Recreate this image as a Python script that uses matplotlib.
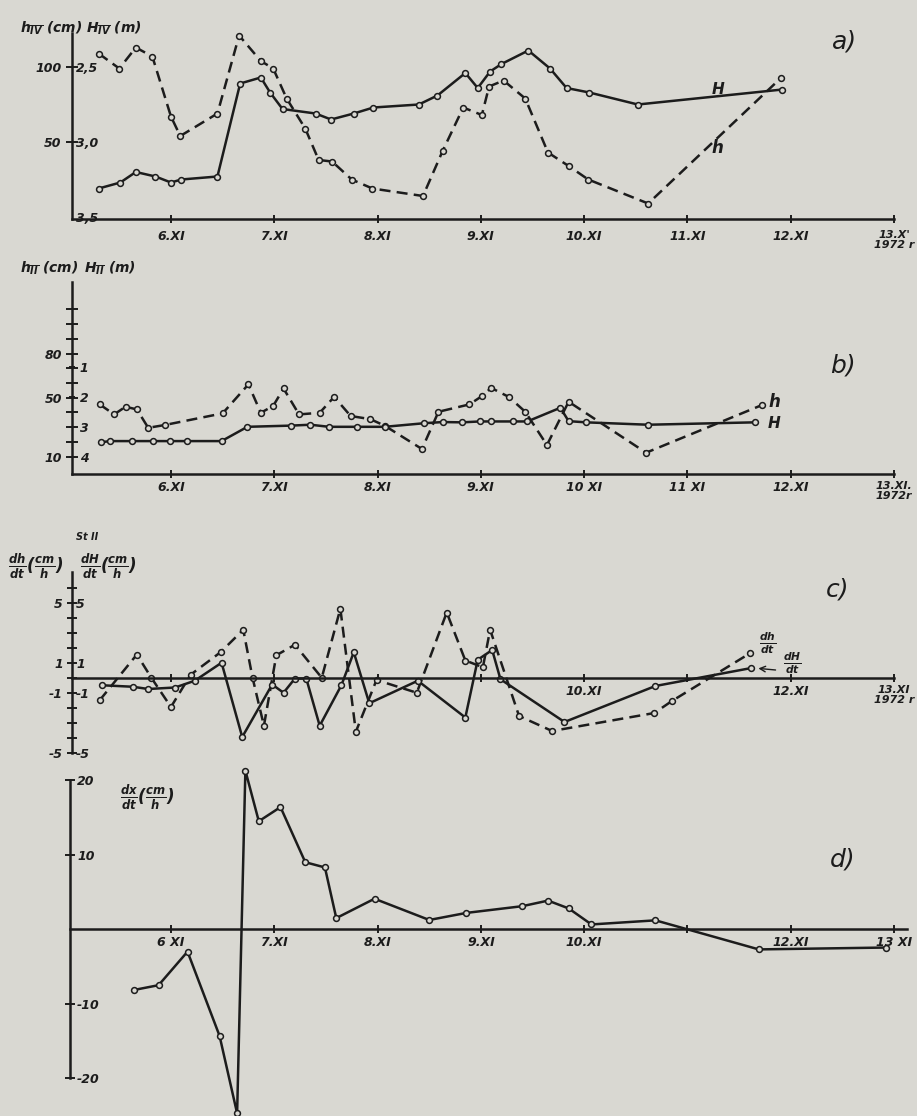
import matplotlib
matplotlib.use('Agg')
import matplotlib.pyplot as plt

W, H = 917, 1116
BG = '#d9d8d2'
INK = '#1c1c1c'

plt.rcParams.update({
    'font.family': ['DejaVu Sans'],
    'font.style': 'italic',
    'font.weight': 'bold',
    'mathtext.fontset': 'custom',
    'mathtext.it': 'DejaVu Sans:italic:bold',
    'mathtext.rm': 'DejaVu Sans:italic:bold',
    'mathtext.bf': 'DejaVu Sans:bold',
    'mathtext.sf': 'DejaVu Sans:bold',
})

# ---------------- data (time in days of November 1972) ----------------
# panel a) gauge IV
a_H_t = [5.30, 5.51, 5.66, 5.85, 6.00, 6.10, 6.45, 6.67, 6.87, 6.96, 7.08, 7.40, 7.55, 7.77,
         7.96, 8.40, 8.58, 8.85, 8.97, 9.09, 9.20, 9.46, 9.67, 9.83, 10.05, 10.52, 11.92]
a_H = [3.31, 3.27, 3.20, 3.23, 3.27, 3.25, 3.23, 2.61, 2.57, 2.67, 2.78, 2.81, 2.85, 2.81,
       2.77, 2.75, 2.69, 2.54, 2.64, 2.53, 2.48, 2.39, 2.51, 2.64, 2.67, 2.75, 2.65]
a_h_t = [5.30, 5.50, 5.66, 5.82, 6.00, 6.09, 6.45, 6.66, 6.87, 6.99, 7.12, 7.30, 7.43, 7.56,
         7.75, 7.95, 8.44, 8.63, 8.83, 9.01, 9.08, 9.22, 9.43, 9.65, 9.85, 10.04, 10.62, 11.91]
a_h = [109, 99, 113, 107, 67, 54, 69, 121, 104, 99, 79, 59, 38, 37,
       25, 19, 14, 44, 73, 68, 87, 91, 79, 43, 34, 25, 9, 93]

# panel b) gauge II
b_h_t = [5.31, 5.45, 5.56, 5.67, 5.78, 5.94, 6.50, 6.75, 6.87, 6.99, 7.09, 7.24, 7.44, 7.58,
         7.74, 7.93, 8.07, 8.43, 8.59, 8.89, 9.01, 9.10, 9.27, 9.43, 9.64, 9.85, 10.60, 11.72]
b_h = [45.5, 38.7, 43.9, 42.1, 29.6, 31.5, 39.4, 59.1, 39.8, 44.5, 56.3, 38.7, 39.8, 50.6,
       37.6, 35.5, 31.0, 15.2, 40.5, 45.5, 51.1, 56.7, 50.6, 40.5, 17.9, 47.3, 12.7, 45.0]
b_H_t = [5.32, 5.41, 5.62, 5.83, 5.99, 6.16, 6.49, 6.74, 7.16, 7.35, 7.53, 7.80, 8.07, 8.45,
         8.63, 8.82, 8.99, 9.10, 9.31, 9.45, 9.77, 9.85, 10.02, 10.62, 11.65]
b_H = [3.52, 3.48, 3.48, 3.48, 3.48, 3.48, 3.48, 3.00, 2.96, 2.93, 3.00, 3.00, 3.00, 2.88,
       2.84, 2.85, 2.82, 2.82, 2.82, 2.82, 2.36, 2.81, 2.85, 2.93, 2.85]

# panel c) rates of change
c_dh_t = [5.31, 5.67, 5.81, 6.00, 6.19, 6.48, 6.70, 6.79, 6.90, 7.02, 7.20, 7.46, 7.64, 7.79,
          7.99, 8.38, 8.67, 8.85, 9.02, 9.09, 9.37, 9.69, 10.68, 10.85, 11.61]
c_dh = [-1.5, 1.55, 0.0, -1.95, 0.2, 1.7, 3.2, 0.0, -3.2, 1.5, 2.2, 0.0, 4.6, -3.6,
        -0.15, -1.0, 4.35, 1.15, 0.7, 3.2, -2.55, -3.55, -2.35, -1.55, 1.65]
c_dH_t = [5.33, 5.63, 5.78, 6.04, 6.23, 6.49, 6.69, 6.98, 7.09, 7.20, 7.31, 7.44, 7.65, 7.77,
          7.92, 8.39, 8.85, 8.97, 9.11, 9.19, 9.81, 10.69, 11.62]
c_dH = [-0.5, -0.6, -0.75, -0.65, -0.2, 1.0, -3.95, -0.45, -1.0, -0.05, -0.05, -3.2, -0.5, 1.7,
        -1.7, -0.2, -2.65, 1.2, 1.85, -0.1, -2.95, -0.55, 0.65]

# panel d) dx/dt
d_t = [5.64, 5.88, 6.16, 6.47, 6.64, 6.72, 6.85, 7.06, 7.30, 7.49, 7.60, 7.97, 8.50, 8.86,
       9.40, 9.65, 9.85, 10.07, 10.69, 11.69, 12.92]
d_v = [-8.15, -7.5, -3.0, -14.3, -24.7, 21.3, 14.5, 16.4, 9.0, 8.3, 1.5, 4.1, 1.25, 2.2,
       3.1, 3.85, 2.8, 0.65, 1.2, -2.7, -2.45]

days = [6, 7, 8, 9, 10, 11, 12, 13]
a_xlabels = ['6.XI', '7.XI', '8.XI', '9.XI', '10.XI', '11.XI', '12.XI', "13.X'\n1972 r"]
b_xlabels = ['6.XI', '7.XI', '8.XI', '9.XI', '10 XI', '11 XI', '12.XI', '13.XI.\n1972r']
c_xlabels = ['', '', '', '', '10.XI', '', '12.XI', '13.XI\n1972 r']
d_xlabels = ['6 XI', '7.XI', '8.XI', '9.XI', '10.XI', '', '12.XI', '13 XI']

# ---------------- figure ----------------
fig = plt.figure(figsize=(W / 100, H / 100), dpi=100, facecolor=BG)


def px_axes(x0, x1, ytop, ybot):
    ax = fig.add_axes([x0 / W, 1 - ybot / H, (x1 - x0) / W, (ybot - ytop) / H])
    ax.patch.set_visible(False)
    return ax


def ftext(x, y, s, **kw):
    kw.setdefault('color', INK)
    fig.text(x / W, 1 - y / H, s, **kw)


def style(ax):
    for s in ['top', 'right']:
        ax.spines[s].set_visible(False)
    for s in ['left', 'bottom']:
        ax.spines[s].set_linewidth(1.8)
        ax.spines[s].set_color(INK)
    ax.tick_params(colors=INK, width=1.4, direction='inout', labelsize=9)


def shrink_last(ax):
    lab = ax.get_xticklabels()[-1]
    lab.set_fontsize(8)
    lab.set_linespacing(1.0)


def twin_right_labels(ax, ylim, ticks, labels, length=0):
    t = ax.twinx()
    for s in t.spines.values():
        s.set_visible(False)
    t.spines['right'].set_position(('axes', 0))
    t.set_ylim(*ylim)
    t.set_yticks(ticks)
    t.set_yticklabels(labels)
    t.tick_params(axis='y', colors=INK, width=1.4, direction='inout', length=length,
                  labelsize=9, pad=3)
    return t


SOLID = dict(color=INK, lw=1.8, marker='o', ms=4.2, mfc=BG, mec=INK, mew=1.1, clip_on=False)
DASH = dict(SOLID, ls=(0, (4.4, 2.5)))

# ----- a) -----
axA = px_axes(72, 894, 33, 219)
style(axA)
axA.set_xlim(5.042, 13.0)
axA.set_ylim(-1.33, 122.67)
axA.set_xticks(days)
axA.set_xticklabels(a_xlabels)
axA.tick_params(axis='x', length=6, pad=5)
shrink_last(axA)
axA.set_yticks([50, 100])
axA.set_yticklabels(['50', '100'])
axA.tick_params(axis='y', length=9, pad=3)
axA2 = twin_right_labels(axA, (3.5 + 1.33 / 100, 3.5 - 122.67 / 100),
                         [2.5, 3.0, 3.5], ['2,5', '3,0', '3,5'])
axA.plot(a_h_t, a_h, **DASH)
axA2.plot(a_H_t, a_H, **SOLID)

ftext(20, 28, r'$h_{\overline{IV}}$ (cm)', fontsize=10, va='center')
ftext(86, 28, r'$H_{\overline{IV}}$ (m)', fontsize=10, va='center')
ftext(718, 89, 'H', fontsize=11, ha='center', va='center')
ftext(717, 148, 'h', fontsize=12, ha='center', va='center')
ftext(845, 42, 'a)', fontsize=18, ha='center', va='center', fontweight='normal')

# ----- b) -----
axB = px_axes(72, 894, 282, 474)
style(axB)
axB.set_xlim(5.042, 13.0)
axB.set_ylim(-1.76, 128.6)
axB.set_xticks(days)
axB.set_xticklabels(b_xlabels)
axB.tick_params(axis='x', length=6, pad=2)
shrink_last(axB)
bt = list(range(10, 120, 10))
axB.set_yticks(bt)
axB.set_yticklabels([str(v) if v in (10, 50, 80) else '' for v in bt])
axB.tick_params(axis='y', length=8, pad=3)
axB2 = twin_right_labels(axB, ((90.88 + 1.76) / 20.2, (90.88 - 128.6) / 20.2),
                         [1, 2, 3, 4], ['1', '2', '3', '4'], length=5)
axB.plot(b_h_t, b_h, **DASH)
axB2.plot(b_H_t, b_H, **SOLID)

ftext(20, 268, r'$h_{\overline{II}}$ (cm)', fontsize=10, va='center')
ftext(84, 268, r'$H_{\overline{II}}$ (m)', fontsize=10, va='center')
ftext(774, 402, 'h', fontsize=12, ha='center', va='center')
ftext(774, 424, 'H', fontsize=11, ha='center', va='center')
ftext(843, 365, 'b)', fontsize=18, ha='center', va='center', fontweight='normal')

# ----- c) -----
axC = px_axes(72, 894, 572, 753.5)
style(axC)
axC.set_xlim(5.042, 13.0)
axC.set_ylim(-5.05, 7.05)
axC.spines['bottom'].set_position(('data', 0))
axC.spines['left'].set_bounds(-5, 7.05)
axC.set_xticks(days)
axC.set_xticklabels(c_xlabels)
axC.tick_params(axis='x', length=6, pad=2)
shrink_last(axC)
ct = list(range(-5, 7))
axC.set_yticks(ct)
axC.set_yticklabels([str(v) if v in (-5, -1, 1, 5) else '' for v in ct])
axC.tick_params(axis='y', length=7, pad=3)
twin_right_labels(axC, (-5.05, 7.05), [-5, -1, 1, 5], ['-5', '-1', '1', '5'])
axC.plot(c_dh_t, c_dh, **DASH)
axC.plot(c_dH_t, c_dH, **SOLID)
axC.annotate('', xy=(11.66, 0.64), xytext=(11.88, 0.5),
             arrowprops=dict(arrowstyle='->', color=INK, lw=1.0))

ftext(8, 566, r'$\frac{dh}{dt}(\frac{cm}{h})$', fontsize=12, va='center')
ftext(80, 566, r'$\frac{dH}{dt}(\frac{cm}{h})$', fontsize=12, va='center')
ftext(76, 537, 'St II', fontsize=7, va='center')
ftext(768, 643, r'$\frac{dh}{dt}$', fontsize=11, ha='center', va='center')
ftext(792, 663, r'$\frac{dH}{dt}$', fontsize=11, ha='center', va='center')
ftext(838, 590, 'c)', fontsize=18, ha='center', va='center', fontweight='normal')

# ----- d) -----
axD = px_axes(69.5, 906.7, 765, 1116)
style(axD)
axD.spines['left'].set_visible(False)
axD.spines['right'].set_visible(True)
axD.spines['right'].set_linewidth(1.8)
axD.spines['right'].set_color(INK)
axD.spines['right'].set_position(('axes', 0))
axD.spines['right'].set_bounds(-20, 20)
axD.yaxis.tick_right()
axD.spines['bottom'].set_position(('data', 0))
axD.set_xlim(5.0174, 13.122)
axD.set_ylim(-25.06, 22.05)
axD.set_xticks(days)
axD.set_xticklabels(d_xlabels)
axD.tick_params(axis='x', length=6, pad=2)
axD.set_yticks([-20, -10, 10, 20])
axD.set_yticklabels(['-20', '-10', '10', '20'])
axD.tick_params(axis='y', length=7, pad=2)
axD.plot(d_t, d_v, **SOLID)

ftext(120, 797, r'$\frac{dx}{dt}(\frac{cm}{h})$', fontsize=12, va='center')
ftext(843, 860, 'd)', fontsize=18, ha='center', va='center', fontweight='normal')

fig.savefig('out.png', dpi=100, facecolor=BG)
